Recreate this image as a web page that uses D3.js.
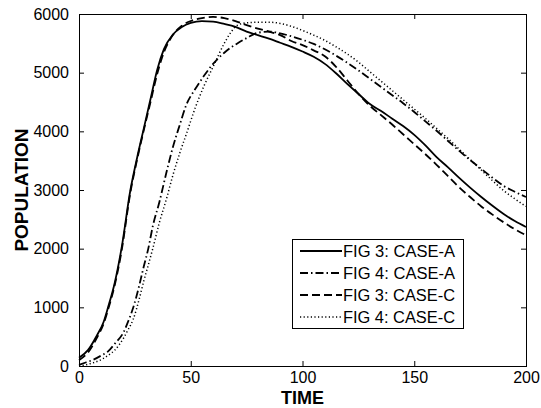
<!DOCTYPE html>
<html>
<head>
<meta charset="utf-8">
<script src="https://cdn.jsdelivr.net/npm/d3@7"></script>
<style>
  body { margin: 0; background: #fff; }
  svg { display: block; }
  text { font-family: Arial, "Liberation Sans", Helvetica, sans-serif; fill: #000; }
</style>
</head>
<body>
<div id="chart"></div>
<script>
// time values shared by the FIG 3 series
const times = [0, 4, 8, 11, 13, 16, 19, 23, 26, 29, 32, 35, 38, 42, 46, 50, 55, 60, 65, 70, 75, 80, 85, 90, 95, 100,
  105, 110, 115, 120, 125, 130, 135, 140, 145, 150, 155, 160, 165, 170, 175, 180, 185, 190, 195, 200];

const fig3CaseA = [140, 270, 520, 750, 1000, 1420, 2000, 3000, 3550, 4050, 4550, 5050, 5400, 5650, 5780, 5850, 5880, 5870, 5830, 5780, 5700,
  5640, 5580, 5510, 5440, 5360, 5270, 5150, 4990, 4810, 4640, 4470, 4350, 4220, 4090, 3940, 3760, 3560, 3390, 3210, 3040, 2880, 2730, 2590, 2470, 2370];

const fig3CaseC = [100, 230, 480, 720, 960, 1380, 1950, 2960, 3520, 4020, 4500, 4980, 5350, 5640, 5800, 5880, 5930, 5950, 5930, 5880, 5810,
  5750, 5700, 5640, 5540, 5470, 5380, 5280, 5100, 4870, 4640, 4440, 4280, 4120, 3950, 3780, 3610, 3430, 3240, 3050, 2880, 2720, 2580, 2450, 2330, 2230];

// FIG 4 series are sampled on their own time grid (later rise)
const times4 = [0, 3, 6, 10, 13, 16, 20, 22, 24.3, 27, 29, 31, 33, 36, 39, 42, 45, 48, 52, 56, 60, 65, 68, 70.5, 75, 80, 85, 90, 95, 100,
  105, 110, 115, 120, 125, 130, 135, 140, 145, 150, 155, 160, 165, 170, 175, 180, 185, 190, 195, 200];

const fig4CaseA = [20, 60, 100, 180, 250, 380, 580, 760, 1000, 1380, 1700, 2000, 2380, 2800, 3280, 3730, 4100, 4450, 4720, 4950, 5150, 5340, 5430, 5490, 5590,
  5680, 5700, 5670, 5620, 5560, 5490, 5400, 5290, 5170, 5040, 4900, 4760, 4620, 4480, 4330, 4170, 4010, 3840, 3670, 3510, 3360, 3210, 3070, 2970, 2880];

const fig4CaseC = [0, 20, 50, 110, 180, 270, 480, 620, 800, 1150, 1450, 1720, 2000, 2450, 2830, 3250, 3620, 3950, 4400, 4780, 5100, 5500, 5690, 5800, 5850,
  5860, 5860, 5840, 5790, 5720, 5640, 5550, 5440, 5320, 5180, 5020, 4860, 4700, 4540, 4380, 4220, 4050, 3880, 3700, 3520, 3340, 3160, 2990, 2850, 2720];

const seriesNames = ["FIG 3: CASE-A", "FIG 4: CASE-A", "FIG 3: CASE-C", "FIG 4: CASE-C"];
const xTicks = [0, 50, 100, 150, 200];
const yTicks = [0, 1000, 2000, 3000, 4000, 5000, 6000];

const W = 541, H = 408;
const m = { left: 79, right: 15, top: 14, bottom: 42 };

const svg = d3.select("#chart").append("svg")
  .attr("width", W).attr("height", H);

const x = d3.scaleLinear().domain([0, 200]).range([m.left, W - m.right]);
const y = d3.scaleLinear().domain([0, 6000]).range([H - m.bottom, m.top]);

const series = [
  { name: seriesNames[0], t: times, v: fig3CaseA, dash: null, w: 1.8 },
  { name: seriesNames[1], t: times4, v: fig4CaseA, dash: "8,3,1.5,3", w: 1.8 },
  { name: seriesNames[2], t: times, v: fig3CaseC, dash: "8,4", w: 1.8 },
  { name: seriesNames[3], t: times4, v: fig4CaseC, dash: "1.2,2.4", w: 1.5 },
];

const line = d3.line()
  .x(d => x(d[0]))
  .y(d => y(d[1]))
  .curve(d3.curveMonotoneX);

const gLines = svg.append("g");
series.forEach(s => {
  gLines.append("path")
    .datum(s.t.map((t, i) => [t, s.v[i]]))
    .attr("fill", "none")
    .attr("stroke", "#000")
    .attr("stroke-width", s.w)
    .attr("stroke-dasharray", s.dash)
    .attr("d", line);
});

// axes, ticks inside on all four sides
const tickLen = 5;
const fmt = d3.format("d");
const gx = svg.append("g").attr("transform", `translate(0,${H - m.bottom})`)
  .call(d3.axisBottom(x).tickValues(xTicks).tickFormat(fmt).tickSizeInner(-tickLen).tickSizeOuter(0).tickPadding(6));
const gxTop = svg.append("g").attr("transform", `translate(0,${m.top})`)
  .call(d3.axisTop(x).tickValues(xTicks).tickSizeInner(-tickLen).tickSizeOuter(0).tickFormat(""));
const gy = svg.append("g").attr("transform", `translate(${m.left},0)`)
  .call(d3.axisLeft(y).tickValues(yTicks).tickFormat(fmt).tickSizeInner(-tickLen).tickSizeOuter(0).tickPadding(10));
const gyRight = svg.append("g").attr("transform", `translate(${W - m.right},0)`)
  .call(d3.axisRight(y).tickValues(yTicks).tickSizeInner(-tickLen).tickSizeOuter(0).tickFormat(""));

[gx, gxTop, gy, gyRight].forEach(g => {
  g.select(".domain").remove();
  g.selectAll("line").attr("stroke", "#000");
  g.selectAll("text").attr("font-size", 16).attr("font-family", "Arial, 'Liberation Sans', sans-serif").attr("fill", "#000");
});

svg.append("rect")
  .attr("x", m.left + 0.5).attr("y", m.top + 0.5)
  .attr("width", W - m.left - m.right).attr("height", H - m.top - m.bottom)
  .attr("fill", "none").attr("stroke", "#000");

svg.append("text")
  .attr("x", (m.left + W - m.right) / 2).attr("y", 404)
  .attr("text-anchor", "middle")
  .attr("font-size", 18).attr("font-weight", "bold")
  .text("TIME");

svg.append("text")
  .attr("transform", `translate(28,${(m.top + H - m.bottom) / 2}) rotate(-90)`)
  .attr("text-anchor", "middle")
  .attr("font-size", 19).attr("font-weight", "bold")
  .text("POPULATION");

// legend
const lg = svg.append("g").attr("transform", "translate(292,239)");
lg.append("rect")
  .attr("x", 0.5).attr("y", 0.5).attr("width", 171).attr("height", 89)
  .attr("fill", "#fff").attr("stroke", "#000");
series.forEach((s, i) => {
  const yy = 12 + i * 22;
  lg.append("line")
    .attr("x1", 8).attr("x2", 50).attr("y1", yy).attr("y2", yy)
    .attr("stroke", "#000").attr("stroke-width", s.w)
    .attr("stroke-dasharray", s.dash);
  lg.append("text")
    .attr("x", 51).attr("y", yy + 6)
    .attr("font-size", 16)
    .attr("textLength", 112)
    .attr("lengthAdjust", "spacingAndGlyphs")
    .text(s.name);
});
</script>
</body>
</html>
